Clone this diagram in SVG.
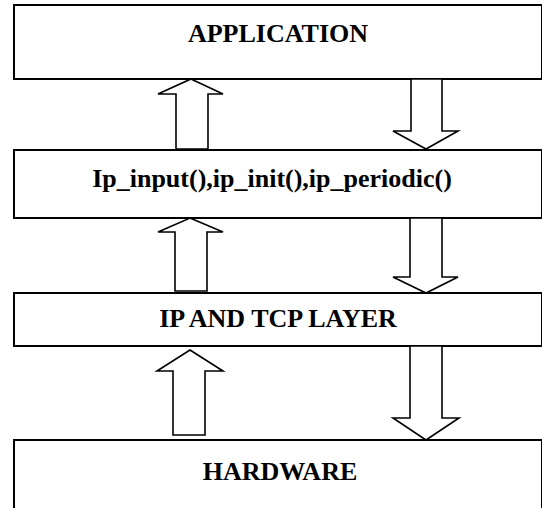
<svg xmlns="http://www.w3.org/2000/svg" width="542" height="508" viewBox="0 0 542 508">
<style>
.box{fill:#fff;stroke:#000;stroke-width:2}
.lbl{font-family:'Liberation Serif','Times New Roman','DejaVu Serif',serif;font-weight:700;font-size:26px;text-anchor:middle;fill:#000}
.arr{fill:#fff;stroke:#000;stroke-width:1.6;stroke-linejoin:miter}
</style>
<rect width="542" height="508" fill="#fff"/>
<g id="application"><rect class="box" x="14" y="5" width="528" height="74"/><text class="lbl" x="278" y="42">APPLICATION</text></g>
<g id="ip_functions"><rect class="box" x="14" y="150" width="528" height="68"/><text class="lbl" x="272" y="187">Ip_input(),ip_init(),ip_periodic()</text></g>
<g id="ip_tcp_layer"><rect class="box" x="14" y="293" width="528" height="53"/><text class="lbl" x="278" y="327">IP AND TCP LAYER</text></g>
<g id="hardware"><rect class="box" x="14" y="440" width="528" height="80"/><text class="lbl" x="280" y="480">HARDWARE</text></g>
<g id="connectors">
<polygon class="arr" points="191,79 223,94 208,94 208,149 176,149 176,94 158,94"/>
<polygon class="arr" points="411,79 442,79 442,131 458,131 426,149 393,131 411,131"/>
<polygon class="arr" points="190,218 223,232 207,232 207,291 175,291 175,232 158,232"/>
<polygon class="arr" points="410,218 442,218 442,277 458,277 426,293 393,277 410,277"/>
<polygon class="arr" points="190,350 223,371 205,371 205,435 173,435 173,371 157,371"/>
<polygon class="arr" points="410,346 442,346 442,418 459,418 426,440 393,418 410,418"/>
</g>
</svg>
